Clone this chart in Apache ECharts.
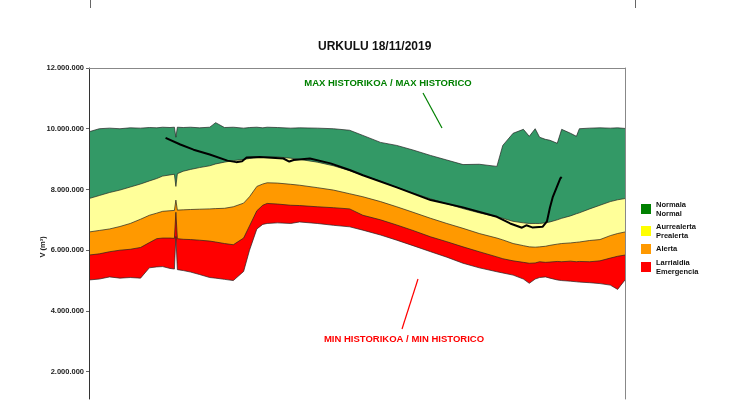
<!DOCTYPE html>
<html>
<head>
<meta charset="utf-8">
<script src="https://cdn.jsdelivr.net/npm/echarts@6/dist/echarts.min.js"></script>
<style>
  html, body { margin: 0; padding: 0; background: #fff; }
  #chart { width: 735px; height: 413px; }
</style>
</head>
<body>
<div id="chart"></div>
<script>
// day of year for each band sample, values in millions of m3
const days = [1, 8, 15, 22, 29, 36, 42, 47, 51, 56, 59, 60, 61, 65, 70, 76, 83, 87, 93, 99,
  106, 110, 115, 119, 122, 129, 138, 144, 156, 167, 178, 187, 199, 210, 221, 233, 244, 255, 266, 278,
  282, 289, 296, 300, 304, 307, 311, 314, 319, 322, 328, 332, 334, 341, 348, 355, 360, 365];

const maxHist = [9.90, 10.00, 10.02, 10.00, 10.03, 10.02, 10.04, 10.03, 10.05, 10.04, 10.05, 9.72, 10.05, 10.04, 10.05, 10.03, 10.05, 10.20, 10.04, 10.05,
  10.02, 10.04, 10.05, 10.03, 10.05, 10.04, 10.02, 10.03, 10.02, 10.00, 9.95, 9.78, 9.55, 9.45, 9.30, 9.12, 8.97, 8.82, 8.83, 8.76,
  9.45, 9.85, 9.98, 9.75, 10.00, 9.72, 9.65, 9.62, 9.52, 9.98, 9.85, 9.75, 10.00, 10.02, 10.03, 10.02, 10.03, 10.01];

const normalLvl = [7.70, 7.80, 7.90, 7.98, 8.08, 8.18, 8.28, 8.36, 8.44, 8.48, 8.50, 8.10, 8.52, 8.60, 8.66, 8.72, 8.78, 8.84, 8.90, 8.95,
  8.99, 9.02, 9.05, 9.06, 9.07, 9.07, 9.03, 8.99, 8.90, 8.78, 8.62, 8.47, 8.27, 8.07, 7.88, 7.69, 7.53, 7.37, 7.23, 7.10,
  7.05, 6.95, 6.90, 6.88, 6.88, 6.88, 6.90, 6.93, 7.00, 7.05, 7.13, 7.20, 7.23, 7.36, 7.48, 7.60, 7.66, 7.70];

const prealertaLvl = [6.60, 6.65, 6.70, 6.78, 6.88, 7.02, 7.15, 7.22, 7.28, 7.30, 7.31, 7.65, 7.32, 7.33, 7.34, 7.35, 7.36, 7.37, 7.38, 7.43,
  7.55, 7.76, 8.10, 8.18, 8.22, 8.21, 8.17, 8.14, 8.06, 7.98, 7.86, 7.76, 7.60, 7.43, 7.25, 7.05, 6.88, 6.72, 6.55, 6.40,
  6.34, 6.22, 6.15, 6.11, 6.10, 6.11, 6.13, 6.16, 6.20, 6.22, 6.24, 6.26, 6.27, 6.32, 6.35, 6.48, 6.55, 6.60];

const alertaLvl = [5.84, 5.88, 5.95, 6.00, 6.03, 6.09, 6.25, 6.38, 6.40, 6.40, 6.39, 7.25, 6.38, 6.36, 6.35, 6.33, 6.30, 6.27, 6.22, 6.18,
  6.40, 6.80, 7.30, 7.48, 7.54, 7.52, 7.48, 7.47, 7.43, 7.40, 7.36, 7.15, 7.00, 6.83, 6.65, 6.44, 6.28, 6.11, 5.95, 5.78,
  5.72, 5.65, 5.60, 5.57, 5.58, 5.62, 5.60, 5.61, 5.63, 5.62, 5.64, 5.62, 5.63, 5.62, 5.65, 5.74, 5.80, 5.84];

const minHist = [5.02, 5.05, 5.12, 5.08, 5.10, 5.08, 5.42, 5.45, 5.46, 5.40, 5.38, 6.45, 5.36, 5.33, 5.28, 5.20, 5.10, 5.08, 5.04, 5.00,
  5.30, 6.00, 6.70, 6.85, 6.88, 6.90, 6.88, 6.93, 6.88, 6.82, 6.77, 6.66, 6.50, 6.33, 6.15, 5.95, 5.77, 5.57, 5.42, 5.29,
  5.25, 5.18, 5.05, 4.91, 5.05, 5.10, 5.12, 5.08, 5.02, 5.00, 4.98, 4.96, 4.95, 4.93, 4.90, 4.85, 4.71, 5.02];

// 2019 stored volume
const curDays = [53, 63, 72, 83, 95, 101, 105, 108, 117, 133, 137, 140, 151, 165, 178, 187, 210, 233, 255, 278,
  287, 295, 298, 302, 309, 312, 314, 316, 321, 322];
const curVals = [9.70, 9.48, 9.31, 9.15, 8.95, 8.90, 8.93, 9.05, 9.07, 9.02, 8.92, 8.97, 9.02, 8.86, 8.64, 8.47, 8.07, 7.65, 7.41, 7.10,
  6.88, 6.74, 6.82, 6.75, 6.77, 6.95, 7.40, 7.76, 8.36, 8.41];

const yTicks = [2000000, 4000000, 6000000, 8000000, 10000000, 12000000];
const M = 1000000;
const FONT = 'Arial, "Liberation Sans", sans-serif';

const fmt = v => String(v).replace(/\B(?=(\d{3})+(?!\d))/g, '.');

const edge = { color: '#222', width: 0.7 };

// each level is filled down to the axis; later (lower) levels paint over earlier ones
function level(name, vals, fill, legendColor) {
  return {
    name: name,
    type: 'line',
    symbol: 'none',
    data: days.map((d, i) => [d, vals[i] * M]),
    lineStyle: edge,
    itemStyle: { color: legendColor },
    areaStyle: { color: fill, opacity: 1, origin: 'start' },
    emphasis: { disabled: true }
  };
}

const chart = echarts.init(document.getElementById('chart'), null, { renderer: 'canvas' });

chart.setOption({
  animation: false,
  textStyle: { fontFamily: FONT },
  title: {
    text: 'URKULU 18/11/2019',
    left: 313,
    top: 36,
    textStyle: { fontSize: 12, fontWeight: 'bold', color: '#111', fontFamily: FONT }
  },
  legend: {
    orient: 'vertical',
    left: 641,
    top: 200,
    padding: 0,
    itemWidth: 10,
    itemHeight: 10,
    itemGap: 4,
    icon: 'rect',
    selectedMode: false,
    textStyle: { fontSize: 7.5, fontWeight: 'bold', color: '#111', lineHeight: 9, fontFamily: FONT },
    data: [
      { name: 'Normala\nNormal', itemStyle: { color: '#008000' } },
      { name: 'Aurrealerta\nPrealerta', itemStyle: { color: '#ffff00' } },
      { name: 'Alerta', itemStyle: { color: '#ff9900' } },
      { name: 'Larrialdia\nEmergencia', itemStyle: { color: '#ff0000' } }
    ]
  },
  grid: { left: 89, right: 110, top: 68, bottom: 14 },
  xAxis: {
    type: 'value',
    min: 1,
    max: 365,
    position: 'top',
    z: 10,
    axisLine: { onZero: false, lineStyle: { color: '#888', width: 1 } },
    axisTick: { show: false },
    axisLabel: { show: false },
    splitLine: { show: false }
  },
  yAxis: [{
    type: 'value',
    min: 1100000,
    max: 12000000,
    z: 10,
    axisLine: { show: true, onZero: false, lineStyle: { color: '#333', width: 1 } },
    axisTick: { show: true, length: 3, customValues: yTicks, lineStyle: { color: '#666' } },
    axisLabel: {
      customValues: yTicks,
      formatter: fmt,
      fontSize: 7.5,
      fontWeight: 'bold',
      color: '#222',
      margin: 5,
      fontFamily: FONT
    },
    splitLine: { show: false }
  }, {
    type: 'value',
    position: 'right',
    z: 10,
    axisLine: { show: true, onZero: false, lineStyle: { color: '#888', width: 1 } },
    axisTick: { show: false },
    axisLabel: { show: false },
    splitLine: { show: false }
  }],
  series: [
    level('Normala\nNormal', maxHist, '#339966', '#008000'),
    level('Aurrealerta\nPrealerta', normalLvl, '#ffff99', '#ffff00'),
    level('Alerta', prealertaLvl, '#ff9900', '#ff9900'),
    level('Larrialdia\nEmergencia', alertaLvl, '#ff0000', '#ff0000'),
    level('min', minHist, '#ffffff', '#ffffff'),
    {
      name: '2019',
      type: 'line',
      symbol: 'none',
      z: 5,
      data: curDays.map((d, i) => [d, curVals[i] * M]),
      lineStyle: { color: '#000', width: 2 },
      emphasis: { disabled: true }
    }
  ],
  graphic: [
    { type: 'line', z: 100, shape: { x1: 90.5, y1: 0, x2: 90.5, y2: 8 }, style: { stroke: '#666', lineWidth: 1 } },
    { type: 'line', z: 100, shape: { x1: 635.5, y1: 0, x2: 635.5, y2: 8 }, style: { stroke: '#666', lineWidth: 1 } },
    {
      type: 'text', z: 100, x: 43, y: 247, rotation: Math.PI / 2,
      style: { text: 'V (m³)', fill: '#222', font: 'bold 7.5px ' + FONT, align: 'center', verticalAlign: 'middle' }
    },
    {
      type: 'text', z: 100, x: 388, y: 83,
      style: { text: 'MAX HISTORIKOA / MAX HISTORICO', fill: '#008000', font: 'bold 9.5px ' + FONT, align: 'center', verticalAlign: 'middle' }
    },
    { type: 'line', z: 100, shape: { x1: 423, y1: 93, x2: 442, y2: 128 }, style: { stroke: '#008000', lineWidth: 1.2 } },
    {
      type: 'text', z: 100, x: 404, y: 339,
      style: { text: 'MIN HISTORIKOA / MIN HISTORICO', fill: '#ff0000', font: 'bold 9.5px ' + FONT, align: 'center', verticalAlign: 'middle' }
    },
    { type: 'line', z: 100, shape: { x1: 418, y1: 279, x2: 402, y2: 329 }, style: { stroke: '#ff0000', lineWidth: 1.2 } }
  ]
});
</script>
</body>
</html>
